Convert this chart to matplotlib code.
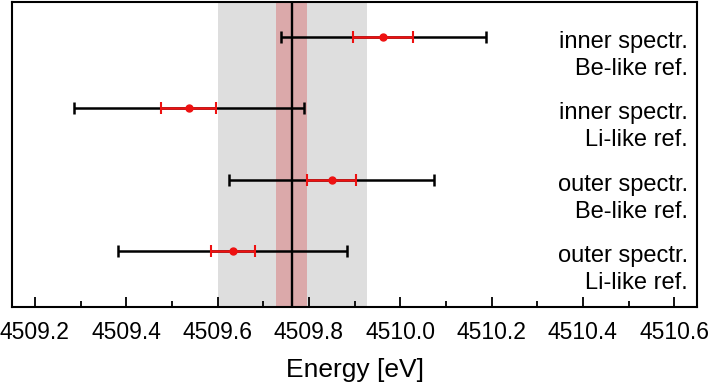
import matplotlib
matplotlib.use("Agg")
import matplotlib.pyplot as plt
from matplotlib.ticker import MultipleLocator
import matplotlib.transforms as mtransforms

plt.rcParams["font.family"] = ["Liberation Sans", "DejaVu Sans"]

# Data: energy results per analysis (top to bottom)
line1 = ["inner spectr.", "inner spectr.", "outer spectr.", "outer spectr."]
line2 = ["Be-like ref.", "Li-like ref.", "Be-like ref.", "Li-like ref."]
energy = [4509.963, 4509.537, 4509.850, 4509.633]
err_total = [0.224, 0.252, 0.224, 0.250]
err_stat = [0.066, 0.060, 0.054, 0.048]
rows = [4, 3, 2, 1]

mean_value = 4509.763
stat_band = (4509.728, 4509.796)
total_band = (4509.600, 4509.928)

fig = plt.figure(figsize=(7.08, 3.87), dpi=100)
ax = fig.add_axes([0.0170, 0.2067, 0.9675, 0.7881])

# Bands and mean line
ax.axvspan(*total_band, color="#dedede", lw=0, zorder=0)
ax.axvspan(*stat_band, color="#dba9aa", lw=0, zorder=1)
ax.axvline(mean_value, color="black", lw=1.7, zorder=2)

# Total uncertainty (black) then statistical (red)
ax.errorbar(energy, rows, xerr=err_total, fmt="none", ecolor="black",
            elinewidth=1.8, capsize=4.3, capthick=1.8, zorder=3)
ax.errorbar(energy, rows, xerr=err_stat, fmt="o", color="#ee1111",
            ecolor="#ee1111", markersize=5, elinewidth=1.8, capsize=4.3,
            capthick=1.5, zorder=4)

# Row labels
trans = mtransforms.blended_transform_factory(ax.transAxes, ax.transData)
for r, a, b in zip(rows, line1, line2):
    ax.text(0.987, r - 0.07, a, transform=trans, ha="right",
            va="center", fontsize=17)
    ax.text(0.987, r - 0.45, b, transform=trans, ha="right",
            va="center", fontsize=17)

ax.set_xlim(4509.15, 4510.65)
ax.set_ylim(0.215, 4.49)
ax.xaxis.set_major_locator(MultipleLocator(0.2))
ax.xaxis.set_minor_locator(MultipleLocator(0.1))
ax.xaxis.set_major_formatter(plt.FormatStrFormatter("%.1f"))
ax.tick_params(axis="x", which="major", direction="in", length=7, width=1.3,
               labelsize=16.5, pad=10)
ax.tick_params(axis="x", which="minor", direction="in", length=4, width=1.3)
ax.set_yticks([])
for s in ax.spines.values():
    s.set_linewidth(1.5)

ax.set_xlabel("Energy [eV]", fontsize=19, labelpad=10)

fig.savefig("out.png", dpi=100)
